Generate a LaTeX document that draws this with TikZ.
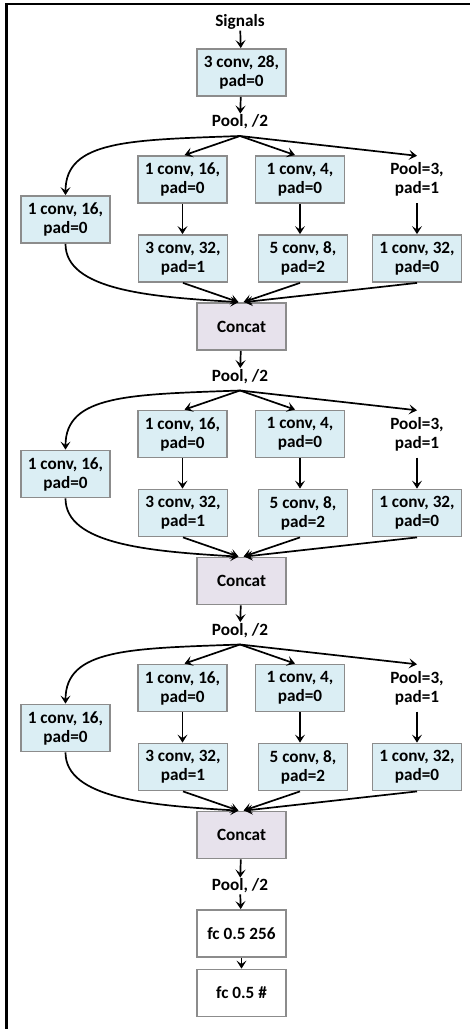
\documentclass[tikz,border=0pt]{standalone}
\usepackage{fontspec}
\setmainfont{Carlito}
\usetikzlibrary{arrows.meta}
\definecolor{boxblue}{HTML}{DBEEF4}
\definecolor{boxlila}{HTML}{E7E2EC}
\definecolor{boxedge}{HTML}{8C8C8C}
\begin{document}
\begin{tikzpicture}[x=1pt,y=-1pt,
  every node/.style={font=\fontsize{17.2}{19}\selectfont\bfseries, align=center},
  blk/.style={draw=boxedge, line width=1.8pt, fill=boxblue, minimum width=89pt, minimum height=47pt, inner sep=1pt},
  catbox/.style={blk, fill=boxlila},
  fcbox/.style={blk, fill=white},
  lbl/.style={inner sep=1pt},
  plbl/.style={inner sep=1pt, minimum width=89pt, minimum height=47pt},
  conn/.style={line width=1.7pt, -{Stealth[length=8pt,width=10pt,inset=3.5pt]}},
]
\useasboundingbox (0,0) rectangle (470,1029);
\draw[line width=2.5pt] (6.5,1029) -- (6.5,4) -- (470,4);

\node[lbl] (sig) at (240,22) {Signals};
\node[blk] (first) at (241.5,72.5) {3 conv, 28,\\pad=0};
\draw[conn] (sig) -- (first);

\foreach \i/\dy in {1/0,2/254.5,3/508.5} {
  \node[lbl] (pool\i) at (240,122+\dy) {Pool, /2};
  \coordinate (f\i) at (240,136+\dy);
  \node[blk] (L\i) at (65.5,219.5+\dy) {1 conv, 16,\\pad=0};
  \node[blk] (A\i) at (182.5,179.5+\dy) {1 conv, 16,\\pad=0};
  \node[blk] (B\i) at (300,179.5+\dy) {1 conv, 4,\\pad=0};
  \node[plbl] (P\i) at (417,179.5+\dy) {Pool=3,\\pad=1};
  \node[blk] (AA\i) at (183,258.5+\dy) {3 conv, 32,\\pad=1};
  \node[blk] (BB\i) at (303,258.5+\dy) {5 conv, 8,\\pad=2};
  \node[blk] (CC\i) at (417,258.5+\dy) {1 conv, 32,\\pad=0};
  \node[catbox] (cat\i) at (241.5,326.5+\dy) {Concat};
  \draw[conn] (f\i) .. controls (130,140+\dy) and (65.5,140+\dy) .. (L\i.north);
  \draw[conn] (f\i) -- ([xshift=2pt]A\i.north);
  \draw[conn] (f\i) -- ([xshift=-5pt]B\i.north);
  \draw[conn] (f\i) -- (P\i.north);
  \draw[conn] (A\i.south) -- (A\i.south |- AA\i.north);
  \draw[conn] (B\i.south) -- (B\i.south |- BB\i.north);
  \draw[conn] (P\i.south) -- (CC\i.north);
  \draw[conn] (L\i.south) .. controls (65.5,290+\dy) and (150,297+\dy) .. ([xshift=-3pt]cat\i.north);
  \draw[conn] (AA\i.south) -- ([xshift=-3pt]cat\i.north);
  \draw[conn] ([xshift=-3pt]BB\i.south) -- ([xshift=2pt]cat\i.north);
  \draw[conn] (CC\i.south) -- ([xshift=3pt]cat\i.north);
}

\draw[conn] (first) -- (pool1);
\draw[conn] (cat1) -- (pool2);
\draw[conn] (cat2) -- (pool3);

\node[lbl] (pool4) at (240,886) {Pool, /2};
\node[fcbox] (fc1) at (241.5,933.5) {fc 0.5 256};
\node[fcbox] (fc2) at (241.5,993) {fc 0.5 \#};
\draw[conn] (cat3) -- (pool4);
\draw[conn] (pool4) -- (fc1);
\draw[conn] (fc1) -- (fc2);
\end{tikzpicture}
\end{document}
